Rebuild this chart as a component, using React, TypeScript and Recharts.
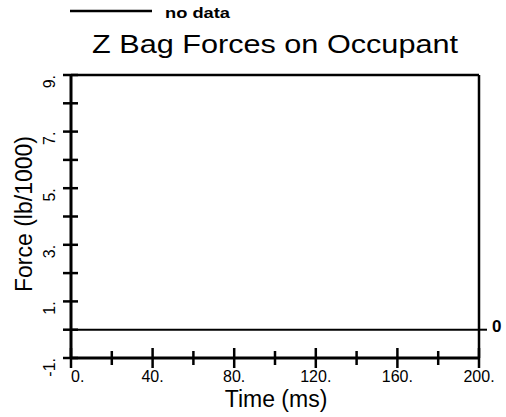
import { LineChart, Line, XAxis, YAxis, ReferenceLine, Legend } from "recharts";

// "no data" series: a flat trace at zero over the whole time window
const times = [0, 200];
const forces = [0, 0];

const xTicks = [0, 20, 40, 60, 80, 100, 120, 140, 160, 180, 200];
const xLabels = [0, 40, 80, 120, 160, 200];
const yTicks = [-1, 0, 1, 2, 3, 4, 5, 6, 7, 8, 9];
const yLabels = [-1, 1, 3, 5, 7, 9];
const rightTicks = [0];

const data = times.map((t, i) => ({ time: t, force: forces[i] }));

const FONT = '"Liberation Sans", Arial, Helvetica, sans-serif';

function XTick(props: any) {
  const { x, y, payload } = props;
  const v = payload.value;
  const major = xLabels.includes(v);
  const len = major ? 10 : 7;
  return (
    <g>
      <line x1={x} x2={x} y1={y - len} y2={y + len} stroke="#000" strokeWidth={2.5} />
      {major && (
        <text
          x={x}
          y={y + 24}
          textAnchor={v === 0 ? "start" : "middle"}
          fontSize={16}
          fontFamily={FONT}
          fill="#000"
        >
          {v}.
        </text>
      )}
    </g>
  );
}

function YTick(props: any) {
  const { x, y, payload } = props;
  const v = payload.value;
  const tx = x - 16;
  return (
    <g>
      <line x1={x - 8} x2={x + 7} y1={y} y2={y} stroke="#000" strokeWidth={2.5} />
      {yLabels.includes(v) && (
        <text
          x={tx}
          y={y}
          transform={`rotate(-90, ${tx}, ${y})`}
          textAnchor="end"
          fontSize={16}
          fontFamily={FONT}
          fill="#000"
        >
          {v}.
        </text>
      )}
    </g>
  );
}

function RightTick(props: any) {
  const { x, y, payload } = props;
  return (
    <g>
      <line x1={x - 1} x2={x + 8} y1={y} y2={y} stroke="#000" strokeWidth={2} />
      <text x={x + 13} y={y + 2} fontSize={17} fontWeight="bold" fontFamily={FONT} fill="#000">
        {payload.value}
      </text>
    </g>
  );
}

function LegendContent(props: any) {
  const name = props.payload?.[0]?.value ?? "no data";
  return (
    <svg width={506} height={26}>
      <line x1={70} x2={152} y1={11} y2={11} stroke="#000" strokeWidth={2.5} />
      <text
        x={165}
        y={18}
        fontSize={15}
        fontWeight="bold"
        fontFamily={FONT}
        textLength={65}
        lengthAdjust="spacingAndGlyphs"
        fill="#000"
      >
        {name}
      </text>
    </svg>
  );
}

export default function App() {
  return (
    <div style={{ position: "absolute", left: 0, top: 0, background: "#fff" }}>
      <LineChart
        width={506}
        height={417}
        data={data}
        margin={{ top: 75, right: 0, bottom: 0, left: 0 }}
      >
        <text
          x={275}
          y={53}
          textAnchor="middle"
          fontSize={25}
          fontFamily={FONT}
          textLength={366}
          lengthAdjust="spacingAndGlyphs"
          fill="#000"
        >
          Z Bag Forces on Occupant
        </text>
        <XAxis
          dataKey="time"
          type="number"
          domain={[0, 200]}
          allowDataOverflow
          ticks={xTicks}
          interval={0}
          height={59}
          tickSize={0}
          tickMargin={0}
          tickLine={false}
          tick={XTick}
          axisLine={{ stroke: "#000", strokeWidth: 3 }}
          label={(p: any) => {
            const vb = p.viewBox;
            return (
              <text
                x={vb.x + vb.width / 2 + 1}
                y={vb.y + 49}
                textAnchor="middle"
                fontSize={23}
                fontFamily={FONT}
                fill="#000"
              >
                Time (ms)
              </text>
            );
          }}
        />
        <YAxis
          yAxisId="left"
          type="number"
          domain={[-1, 9]}
          allowDataOverflow
          ticks={yTicks}
          interval={0}
          width={71}
          tickSize={0}
          tickMargin={0}
          tickLine={false}
          tick={YTick}
          axisLine={{ stroke: "#000", strokeWidth: 3 }}
          label={() => (
            <text
              x={32}
              y={214}
              transform="rotate(-90, 32, 214)"
              textAnchor="middle"
              fontSize={23}
              fontFamily={FONT}
              fill="#000"
            >
              Force (lb/1000)
            </text>
          )}
        />
        <YAxis
          yAxisId="right"
          orientation="right"
          type="number"
          domain={[-1, 9]}
          allowDataOverflow
          ticks={rightTicks}
          interval={0}
          width={27}
          tickSize={0}
          tickMargin={0}
          tickLine={false}
          tick={RightTick}
          axisLine={{ stroke: "#000", strokeWidth: 2.5 }}
        />
        <ReferenceLine yAxisId="left" y={9} stroke="#000" strokeWidth={2.5} />
        <Legend
          layout="horizontal"
          verticalAlign="middle"
          align="center"
          content={LegendContent}
          wrapperStyle={{ top: 0, left: 0, width: 506, height: 26 }}
        />
        <Line
          yAxisId="left"
          dataKey="force"
          name="no data"
          stroke="#000"
          strokeWidth={2}
          dot={false}
          isAnimationActive={false}
        />
      </LineChart>
    </div>
  );
}
